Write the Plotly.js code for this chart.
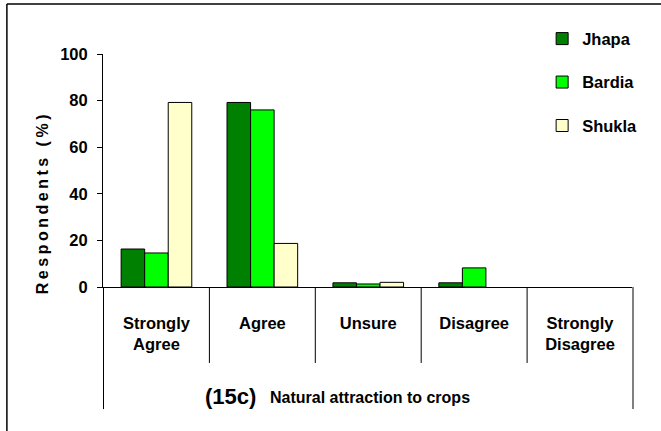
<!DOCTYPE html>
<html>
<head>
<meta charset="utf-8">
<script src="https://cdn.plot.ly/plotly-3.0.1.min.js"></script>
<style>
  html, body { margin: 0; padding: 0; background: #ffffff; }
  #chart { width: 661px; height: 431px; }
</style>
</head>
<body>
<div id="chart"></div>
<script>
var categories = ["Strongly<br>Agree", "Agree", "Unsure", "Disagree", "Strongly<br>Disagree"];
var jhapa  = [16.3, 79.2, 1.8, 1.8, 0];
var bardia = [14.6, 76.0, 1.3, 8.2, 0];
var shukla = [79.2, 18.7, 2.0, 0, 0];
var seriesNames = ["Jhapa", "Bardia", "Shukla"];
var yTicks = [0, 20, 40, 60, 80, 100];

var FONT = "'Liberation Sans', Arial, sans-serif";

function bar(name, vals, color, grp) {
  return {
    type: "bar", name: name, x: categories, y: vals,
    legendgroup: grp,
    marker: { color: color, line: { color: "#000000", width: vals.map(function (v) { return v > 0 ? 1 : 0; }) } }
  };
}

var data = [
  bar(seriesNames[0], jhapa, "#008000", "g1"),
  bar(seriesNames[1], bardia, "#00ff00", "g2"),
  bar(seriesNames[2], shukla, "#ffffcc", "g3")
];

var shapes = [];
for (var i = 1; i < categories.length; i++) {
  shapes.push({ type: "line", xref: "x", yref: "paper", x0: i - 0.5, x1: i - 0.5,
    y0: 0, y1: -0.326, line: { color: "#000000", width: 1 } });
}
shapes.push({ type: "line", xref: "x", yref: "paper", x0: -0.5, x1: -0.5,
  y0: 0, y1: -0.524, line: { color: "#000000", width: 1 } });
shapes.push({ type: "line", xref: "x", yref: "paper", x0: categories.length - 0.5, x1: categories.length - 0.5,
  y0: 0, y1: -0.524, line: { color: "#808080", width: 2 } });
shapes.push({ type: "line", xref: "paper", yref: "paper", x0: -0.181, x1: 1.2,
  y0: 1.2146, y1: 1.2146, line: { color: "#000000", width: 1.5 } });
shapes.push({ type: "line", xref: "paper", yref: "paper", x0: -0.181, x1: -0.181,
  y0: 1.2146, y1: -0.7, line: { color: "#000000", width: 1.5 } });

var layout = {
  width: 661, height: 431,
  margin: { l: 103, r: 27, t: 54, b: 144, pad: 0 },
  paper_bgcolor: "#ffffff", plot_bgcolor: "#ffffff",
  barmode: "group", bargap: 0.333, bargroupgap: 0,
  showlegend: true,
  legend: {
    x: 0.827, y: 1.14, xanchor: "left", yanchor: "top",
    font: { family: FONT, size: 16.5, color: "#000000", weight: "bold" },
    tracegroupgap: 19, bgcolor: "rgba(0,0,0,0)"
  },
  xaxis: {
    type: "category",
    showline: true, linecolor: "#000000", linewidth: 1,
    showgrid: false, zeroline: false,
    ticks: "", ticklabelstandoff: 21,
    tickfont: { family: FONT, size: 16.5, color: "#000000", weight: "bold" },
    fixedrange: true
  },
  yaxis: {
    range: [0, 100], tickvals: yTicks, ticktext: yTicks.map(String),
    showline: true, linecolor: "#000000", linewidth: 1,
    showgrid: false, zeroline: false,
    ticks: "outside", ticklen: 5, tickcolor: "#000000", tickwidth: 1,
    ticklabelstandoff: 6,
    tickfont: { family: FONT, size: 16.5, color: "#000000", weight: "bold" },
    fixedrange: true
  },
  shapes: shapes,
  annotations: [
    { text: "Respondents (%)", xref: "paper", yref: "paper", x: -0.113, y: 0.365,
      textangle: -90, showarrow: false, xanchor: "center", yanchor: "middle",
      font: { family: FONT, size: 16, color: "#000000", weight: "bold" } },
    { text: "(15c)", xref: "paper", yref: "paper", x: (203 - 103) / 531, y: (287 - 396) / 233,
      showarrow: false, xanchor: "left", yanchor: "middle",
      font: { family: FONT, size: 22, color: "#000000", weight: "bold" } },
    { text: "Natural attraction to crops", xref: "paper", yref: "paper", x: (268 - 103) / 531, y: (287 - 397) / 233,
      showarrow: false, xanchor: "left", yanchor: "middle",
      font: { family: FONT, size: 16, color: "#000000", weight: "bold" } }
  ]
};

Plotly.newPlot("chart", data, layout, { displayModeBar: false, staticPlot: true }).then(function () {
  var t = document.querySelectorAll(".annotation-text");
  if (t.length) { t[0].style.letterSpacing = "3.5px"; }
});
</script>
</body>
</html>
